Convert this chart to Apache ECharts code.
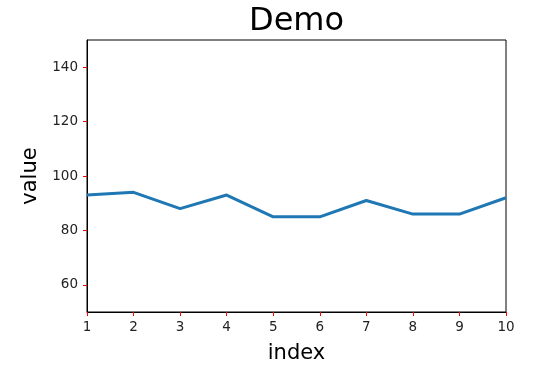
<!DOCTYPE html>
<html>
<head>
<meta charset="utf-8">
<script src="https://cdn.jsdelivr.net/npm/echarts@6/dist/echarts.min.js"></script>
<style>html,body{margin:0;padding:0;background:#fff;}#c{width:536px;height:369px;}</style>
</head>
<body>
<div id="c"></div>
<script>
var indexValues = [1, 2, 3, 4, 5, 6, 7, 8, 9, 10];
var seriesValues = [93, 94, 88, 93, 85, 85, 91, 86, 86, 92];
var yTicks = [60, 80, 100, 120, 140];
var xTicks = [1, 2, 3, 4, 5, 6, 7, 8, 9, 10];

var chart = echarts.init(document.getElementById('c'), null, {renderer: 'canvas'});
var font = 'DejaVu Sans';
chart.setOption({
  animation: false,
  backgroundColor: '#fff',
  title: {
    text: 'Demo',
    left: 249,
    top: 6,
    padding: 0,
    textStyle: {fontFamily: font, fontSize: 32, fontWeight: 'normal', color: '#000'}
  },
  grid: {left: 87, right: 30, top: 40, bottom: 57, show: true, borderColor: '#000', borderWidth: 1, backgroundColor: 'transparent'},
  xAxis: {
    type: 'value', min: 1, max: 10, interval: 1,
    name: 'index', nameLocation: 'middle', nameGap: 31,
    nameTextStyle: {fontFamily: font, fontSize: 21, color: '#000'},
    axisLine: {show: true, lineStyle: {color: '#000', width: 1}},
    axisTick: {show: true, length: 4, lineStyle: {color: '#ff0000', width: 1}},
    axisLabel: {fontFamily: font, fontSize: 13.5, color: '#222', margin: 8, customValues: xTicks},
    splitLine: {show: false}
  },
  yAxis: {
    type: 'value', min: 50, max: 150,
    name: 'value', nameLocation: 'middle', nameGap: 40, nameRotate: 90,
    nameTextStyle: {fontFamily: font, fontSize: 21, color: '#000'},
    axisLine: {show: true, lineStyle: {color: '#000', width: 1}},
    axisTick: {show: true, length: 4, lineStyle: {color: '#ff0000', width: 1}, customValues: yTicks},
    axisLabel: {fontFamily: font, fontSize: 13.5, color: '#222', margin: 9, customValues: yTicks},
    splitLine: {show: false}
  },
  series: [{
    type: 'line',
    data: indexValues.map(function (x, i) { return [x, seriesValues[i]]; }),
    showSymbol: false,
    lineStyle: {color: '#1f77b4', width: 3},
    itemStyle: {color: '#1f77b4'}
  }]
});
</script>
</body>
</html>
